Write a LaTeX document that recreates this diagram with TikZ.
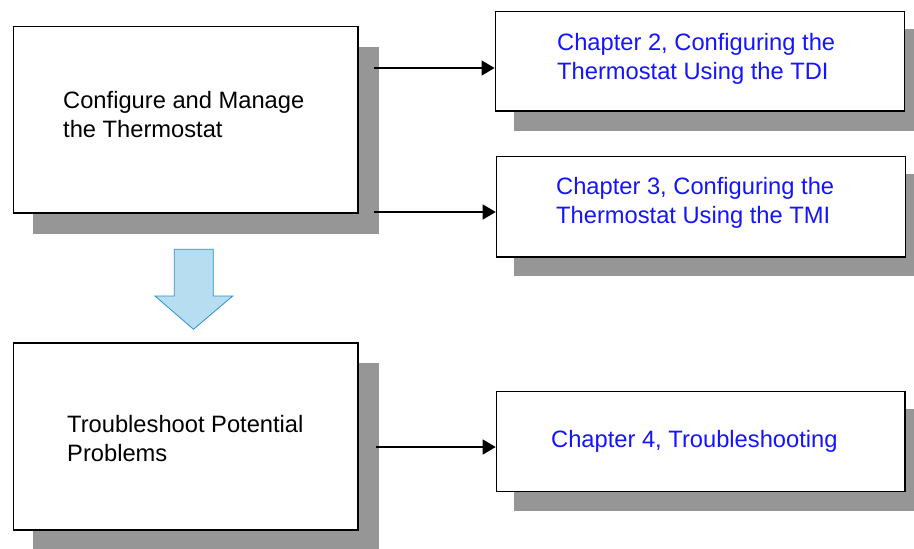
\documentclass[tikz,border=0pt]{standalone}
\usepackage{fontspec}
\setmainfont{Liberation Sans}
\usetikzlibrary{arrows.meta}
\definecolor{shadowgray}{HTML}{969696}
\definecolor{linkblue}{HTML}{1414FF}
\definecolor{arrowfill}{HTML}{B7DEF0}
\definecolor{arrowedge}{HTML}{2A8FD0}
\begin{document}
\begin{tikzpicture}[x=1pt,y=-1pt,
  boxshape/.style={draw=black, line width=1.6pt, fill=white, rectangle, inner sep=0pt, anchor=north west},
  shadowbox/.style={fill=shadowgray, draw=none},
  label/.style={anchor=base west, inner sep=0pt, font=\fontsize{23.7}{29}\selectfont},
  linklabel/.style={label, text=linkblue},
  connector/.style={line width=1.3pt, -{Triangle[length=13pt,width=15pt]}}]
\useasboundingbox (0,0) rectangle (914,549);
\begin{scope}
\clip (0,0) rectangle (914,549);
% shadows
\fill[shadowbox] (33,47) rectangle (379,234);
\fill[shadowbox] (514,29) rectangle (914,130.7);
\fill[shadowbox] (514,174) rectangle (914,276);
\fill[shadowbox] (33,362.7) rectangle (379,560);
\fill[shadowbox] (514,409) rectangle (914,510.7);
\end{scope}
% boxes
\node[boxshape, minimum width=344.6pt, minimum height=186.3pt] (b1) at (12.7,25.7) {};
\node[boxshape, minimum width=408.9pt, minimum height=99.5pt] (b2) at (494.6,10.5) {};
\node[boxshape, minimum width=408.8pt, minimum height=100.3pt] (b3) at (495.7,155.7) {};
\node[boxshape, minimum width=344.6pt, minimum height=187pt] (b4) at (12.7,342.3) {};
\node[boxshape, minimum width=408.3pt, minimum height=100pt] (b5) at (495.7,390.7) {};
% texts
\node[label] (t1) at (63,108.5) {\begin{tabular}[t]{@{}l@{}}Configure and Manage\\the Thermostat\end{tabular}};
\node[linklabel] (t2) at (557,50) {\begin{tabular}[t]{@{}l@{}}Chapter 2, Configuring the\\Thermostat Using the TDI\end{tabular}};
\node[linklabel] (t3) at (556,194) {\begin{tabular}[t]{@{}l@{}}Chapter 3, Configuring the\\Thermostat Using the TMI\end{tabular}};
\node[label] (t4) at (67,432) {\begin{tabular}[t]{@{}l@{}}Troubleshoot Potential\\Problems\end{tabular}};
\node[linklabel] (t5) at (551,447) {Chapter 4, Troubleshooting};
% connectors
\coordinate (s1) at (374,68);
\coordinate (s2) at (374,212);
\coordinate (s3) at (376,447);
\draw[connector] (s1) -- (s1 -| b2.west);
\draw[connector] (s2) -- (s2 -| b3.west);
\draw[connector] (s3) -- (s3 -| b5.west);
% big down arrow
\draw[fill=arrowfill, draw=arrowedge, line width=0.8pt, line join=miter]
  (174.3,249.3) -- (213.3,249.3) -- (213.3,296) -- (232.7,296) -- (193.5,329.3)
  -- (155,296) -- (174.3,296) -- cycle;
\end{tikzpicture}
\end{document}
